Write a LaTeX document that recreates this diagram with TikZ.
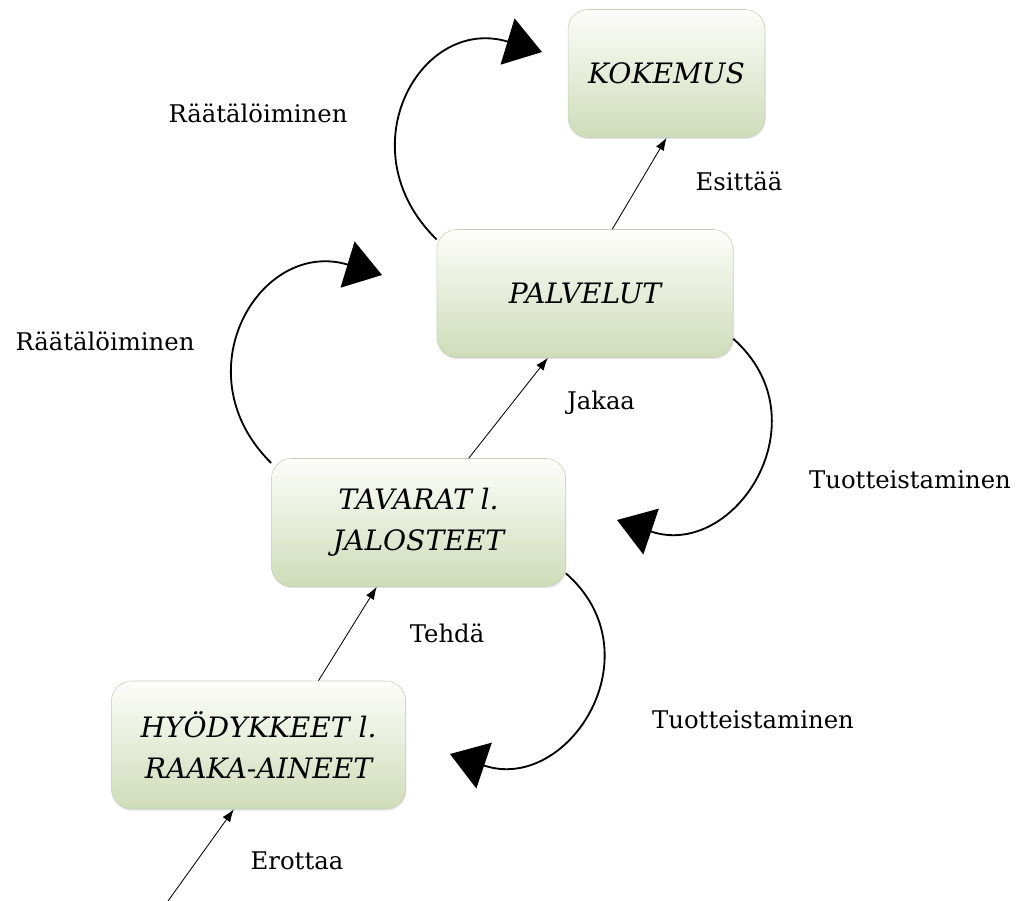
\documentclass[tikz,border=0pt]{standalone}
\usepackage{fontspec}
\setmainfont{DejaVu Serif}
\usetikzlibrary{arrows.meta,shadows}
\definecolor{boxtop}{RGB}{253,253,250}
\definecolor{boxbottom}{RGB}{207,220,184}
\definecolor{boxline}{RGB}{200,208,186}
\tikzset{
	laatikko/.style={draw=boxline, rounded corners=0.5cm, top color=boxtop, bottom color=boxbottom,
		minimum width=7.35cm, minimum height=3.2cm, align=center,
		font=\fontsize{20}{29}\selectfont\itshape,
		drop shadow={opacity=0.2, shadow xshift=0.6pt, shadow yshift=-1.2pt}},
	teksti/.style={font=\fontsize{17.3}{20}\selectfont},
	nuoli/.style={-{Latex[length=9pt,width=6.5pt]}, line width=0.6pt},
	kaari/.style={-{Triangle[length=0.9cm,width=1.2cm]}, line width=1.3pt}
}
\begin{document}
\begin{tikzpicture}[x=0.025cm, y=-0.025cm]
			\useasboundingbox (0,0) rectangle (1020,901);
			\node[laatikko, minimum width=4.92cm] (kokemus) at (666.5,73.5) {KOKEMUS};
			\node[laatikko, minimum width=7.4cm] (palvelut) at (585,293.5) {PALVELUT};
			\node[laatikko] (tavarat) at (418.5,522.5) {TAVARAT l.\\JALOSTEET};
			\node[laatikko] (hyodyke) at (258.5,745) {HYÖDYKKEET l.\\RAAKA-AINEET};
			
			\node[teksti] (raat1) at (258,113) {Räätälöiminen};
			\node[teksti] (raat2) at (105,341) {Räätälöiminen};
			\node[teksti] (esittaa) at (739,181) {Esittää};
			\node[teksti] (jakaa) at (601,403) {Jakaa};
			\node[teksti] (tuot1) at (910,480) {Tuotteistaminen};
			\node[teksti] (tehda) at (447,633) {Tehdä};
			\node[teksti] (tuot2) at (753,720) {Tuotteistaminen};
			\node[teksti] (erottaa) at (297,861) {Erottaa};
			
			\coordinate (alku) at (168,901);
			\coordinate (karki1) at (542,52);
			\coordinate (karki2) at (382,275);
			\coordinate (karki3) at (617,520);
			\coordinate (karki4) at (450,754);
			
			\draw[nuoli] (alku) -- (hyodyke.249);
			\draw[nuoli] (hyodyke.47) -- (tavarat.237);
			\draw[nuoli] (tavarat.52) -- (palvelut.240);
			\draw[nuoli] (palvelut.67) -- (kokemus.south);
			
			\draw[kaari] (palvelut.160) .. controls (345,150) and (420,15) .. (karki1);
			\draw[kaari] (tavarat.158) .. controls (180,373) and (260,238) .. (karki2);
			\draw[kaari] (palvelut.-17) .. controls (825,420) and (735,560) .. (karki3);
			\draw[kaari] (tavarat.-19) .. controls (658,654) and (568,794) .. (karki4);
		\end{tikzpicture}
\end{document}
